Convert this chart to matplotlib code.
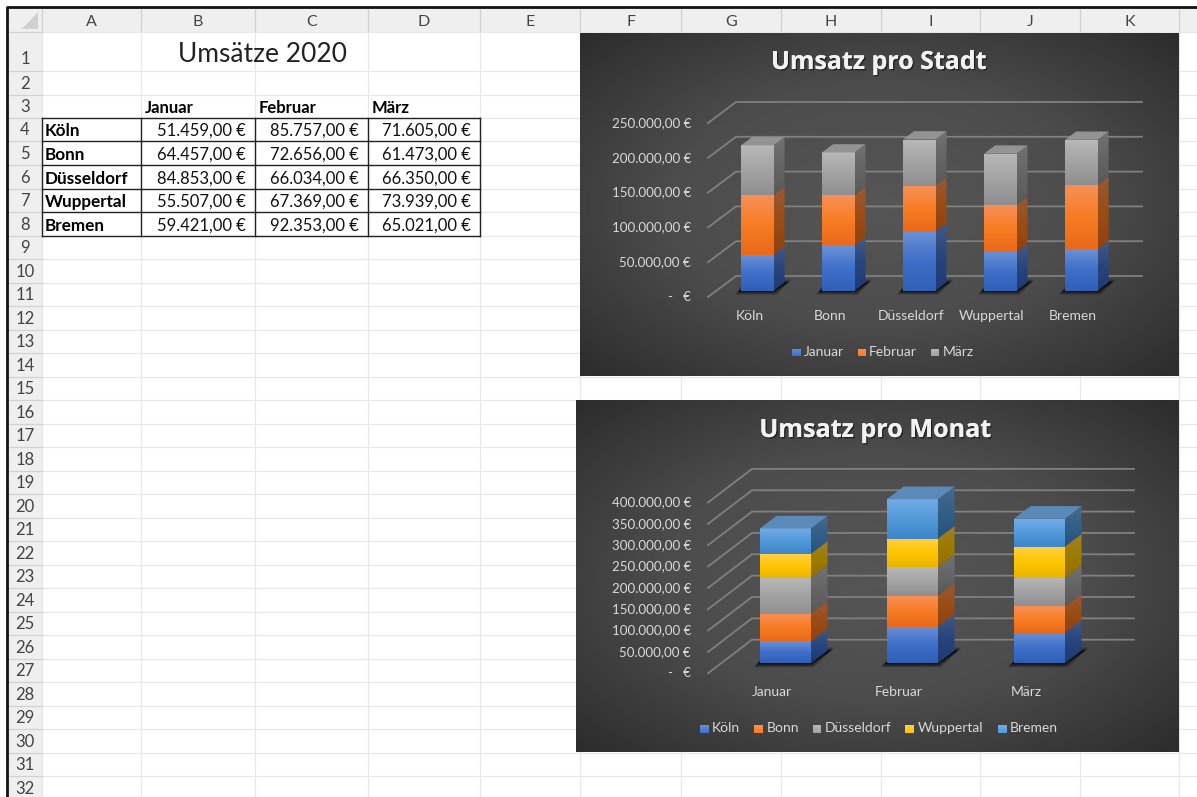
import numpy as np
import matplotlib
matplotlib.use("Agg")
import matplotlib.pyplot as plt
import matplotlib.patheffects as pe
from matplotlib.colors import LinearSegmentedColormap
from matplotlib.patches import Polygon, Rectangle

plt.rcParams["font.family"] = ["Lato", "DejaVu Sans"]

cities = ["Köln", "Bonn", "Düsseldorf", "Wuppertal", "Bremen"]
months = ["Januar", "Februar", "März"]
januar = [51459, 64457, 84853, 55507, 59421]
februar = [85757, 72656, 66034, 67369, 92353]
maerz = [71605, 61473, 66350, 73939, 65021]

col_labels = ["A", "B", "C", "D", "E", "F", "G", "H", "I", "J", "K"]
col_edges = [42, 141, 255, 368, 480, 580, 681, 781, 881, 980, 1080, 1179]
row_edges = [32, 71, 95, 118, 141, 165, 189, 212, 236, 259, 283, 306, 330, 353, 377, 400,
             424, 447, 471, 494, 518, 541, 565, 588, 612, 635, 659, 682, 706, 729, 753, 776, 800]

# (top, middle, bottom) front face
blue = ["#6a90d6", "#3f6fc8", "#2f60b8"]
orange = ["#f69058", "#f87c22", "#e8691a"]
gray = ["#b8b8b8", "#a3a3a3", "#8f8f8f"]
yellow = ["#ffcf45", "#ffc600", "#e8b400"]
light_blue = ["#72abe6", "#5299da", "#3f86c8"]

GRID = "#808080"
LABEL = "#d9d9d9"

fig = plt.figure(figsize=(11.97, 7.97), dpi=100)
sheet = fig.add_axes([0, 0, 1, 1])
sheet.set_xlim(0, 1197)
sheet.set_ylim(797, 0)
sheet.axis("off")


def euro(v):
    s = f"{v:,.2f}".replace(",", "#").replace(".", ",").replace("#", ".")
    return s + " €"


def draw_sheet():
    # headers
    sheet.add_patch(Rectangle((7, 7), 1190, 25, fc="#efefef", ec="none", zorder=0))
    sheet.add_patch(Rectangle((7, 7), 35, 790, fc="#efefef", ec="none", zorder=0))
    sheet.add_patch(Polygon([(38, 12), (38, 29), (22, 29)], fc="#d0d0d0", ec="none", zorder=1))
    sheet.plot([6.5, 6.5, 1197], [797, 7, 7], color="#111111", lw=2, zorder=5)

    # cell grid
    for x in col_edges:
        sheet.plot([x, x], [32, 797], color="#e8e8e8", lw=0.9, zorder=1)
        sheet.plot([x, x], [9, 32], color="#d2d2d2", lw=0.9, zorder=1)
    for y in row_edges:
        sheet.plot([42, 1197], [y, y], color="#e8e8e8", lw=0.9, zorder=1)
        sheet.plot([7, 42], [y, y], color="#d2d2d2", lw=0.9, zorder=1)

    for i, name in enumerate(col_labels):
        sheet.text((col_edges[i] + col_edges[i + 1]) / 2, 21.5, name, ha="center", va="center",
                   fontsize=11.5, color="#444444")
    for i in range(32):
        y = row_edges[i + 1] - 11 if i > 0 else 59
        sheet.text(25, y, str(i + 1), ha="center", va="center", fontsize=12, color="#444444")

    sheet.text(262, 54, "Umsätze 2020", ha="center", va="center", fontsize=19,
               fontweight="normal", color="#222222")

    # table
    for x, name in zip([145, 259, 372], months):
        sheet.text(x, 108, name, ha="left", va="center", fontsize=12, fontweight="bold", color="black")
    for y in row_edges[3:9]:
        sheet.plot([42, 480], [y, y], color="#222222", lw=1, zorder=3)
    for x in col_edges[:5]:
        sheet.plot([x, x], [118, 236], color="#222222", lw=1, zorder=3)
    columns = [januar, februar, maerz]
    for r, city in enumerate(cities):
        y = (row_edges[3 + r] + row_edges[4 + r]) / 2 + 1.5
        sheet.text(45, y, city, ha="left", va="center", fontsize=12.3, fontweight="bold", color="black")
        for c, values in enumerate(columns):
            sheet.text(col_edges[c + 2] - 9, y, euro(values[r]), ha="right", va="center",
                       fontsize=12, color="#111111")


def grad_fill(ax, verts, stops, zorder):
    """Polygon mit vertikalem Verlauf fuellen"""
    verts = np.array(verts)
    cm = LinearSegmentedColormap.from_list("g", stops)
    img = ax.imshow(np.linspace(0, 1, 64).reshape(-1, 1), cmap=cm, aspect="auto", origin="upper",
                    extent=[verts[:, 0].min(), verts[:, 0].max(), verts[:, 1].min(), verts[:, 1].max()],
                    zorder=zorder, interpolation="bilinear")
    img.set_clip_path(Polygon(verts, transform=ax.transData))


def shade(stops, f):
    rgb = np.array([matplotlib.colors.to_rgb(c) for c in stops]) * f
    return [tuple(c) for c in np.clip(rgb, 0, 1)]


def draw_chart(rect, title, title_xy, title_size, cats, names, series, colors, geo, legend, ymax):
    left, top, right, bottom = rect
    ax = fig.add_axes([left / 1197, 1 - bottom / 797, (right - left) / 1197, (bottom - top) / 797])
    sp = geo["spacing"]
    sc = geo["scale"]  # px per value
    xlim = ((left - geo["x0"]) / sp, (right - geo["x0"]) / sp)
    ylim = ((geo["base"] - bottom) / sc, (geo["base"] - top) / sc)
    px = lambda v: (v - geo["x0"]) / sp
    dy0 = lambda v: (geo["base"] - v) / sc

    # background
    yy, xx = np.mgrid[-1:1:200j, -1:1:300j]
    r = np.sqrt(xx ** 2 + yy ** 2) / np.sqrt(2)
    bg = LinearSegmentedColormap.from_list("bg", ["#565656", "#4c4c4c", "#2c2c2c"])
    ax.imshow(r, cmap=bg, extent=[*xlim, *ylim], aspect="auto", zorder=0, vmin=0, vmax=1)

    # gridlines
    for v in range(0, ymax + 1, 50000):
        xs = [px(geo["ax_front"]), px(geo["ax_back"]), px(geo["ax_right"])]
        ys = [v + dy0(geo["front0"]), v + dy0(geo["back0"]), v + dy0(geo["back0"])]
        ax.plot(xs, ys, color=GRID, lw=1.3, zorder=1, solid_joinstyle="miter")
        label = euro(v) if v else "-   €"
        ax.text(px(geo["label_x"]), v + dy0(geo["front0"]), label, ha="right", va="center",
                fontsize=geo["fs"], color=LABEL, zorder=6)

    w = geo["width"] / sp
    dx = geo["dx"] / sp
    dy = geo["dy"] / sc

    for i, cat in enumerate(cats):
        x0, x1 = i - w / 2, i + w / 2
        # shadow
        for grow, alpha in zip([3, 1.5, 0], [0.25, 0.35, 0.6]):
            g = grow / sp
            ax.add_patch(Polygon([(x0 - 3 / sp - g, -(1 + grow) / sc), (x1 + g, -(1 + grow) / sc),
                                  (x1 + dx + 4 / sp + g, dy + grow / sc), (x0 + dx - 3 / sp - g, dy + grow / sc)],
                                 fc="black", ec="none", alpha=alpha, zorder=2))
        bottom_v = 0
        for s, stops in zip(series, colors):
            top_v = bottom_v + s[i]
            grad_fill(ax, [(x0, bottom_v), (x1, bottom_v), (x1, top_v), (x0, top_v)], stops, 3)
            grad_fill(ax, [(x1, bottom_v), (x1 + dx, bottom_v + dy), (x1 + dx, top_v + dy), (x1, top_v)],
                      shade(stops, 0.62), 3)
            bottom_v = top_v
        last = shade(colors[-1], 0.8)
        ax.add_patch(Polygon([(x0, bottom_v), (x1, bottom_v), (x1 + dx, bottom_v + dy), (x0 + dx, bottom_v + dy)],
                             fc=last[0], ec="none", zorder=3))
        ax.text(px(geo["cat_x"][i]), dy0(geo["cat_y"]), cat, ha="center", va="center",
                fontsize=geo["fs2"], color=LABEL, zorder=6)

    # legend
    for name, stops, sx, tx in zip(names, colors, legend["swatch"], legend["text"]):
        yl = dy0(legend["y"])
        grad_fill(ax, [(px(sx), yl - 4 / sc), (px(sx + 8.5), yl - 4 / sc), (px(sx + 8.5), yl + 4 / sc), (px(sx), yl + 4 / sc)],
                  stops[:2], 6)
        ax.text(px(tx), yl, name, ha="left", va="center", fontsize=geo["fs2"], color=LABEL, zorder=6)

    t = ax.text(px(title_xy[0]), dy0(title_xy[1]), title, ha="center", va="center", fontsize=title_size,
                fontweight="bold", color="#f2f2f2", zorder=6, family=["Open Sans", "DejaVu Sans"])
    t.set_path_effects([pe.withSimplePatchShadow(offset=(1, -1), shadow_rgbFace="black", alpha=0.5), pe.Normal()])

    ax.set_xlim(*xlim)
    ax.set_ylim(*ylim)
    ax.axis("off")


draw_sheet()

draw_chart(
    (580, 33, 1179, 376), "Umsatz pro Stadt", (879, 62.5), 18, cities, months,
    [januar, februar, maerz], [blue, orange, gray],
    dict(spacing=81, scale=34.8 / 50000, x0=757.3, base=290.7, width=32.5, dx=11, dy=8.3,
         front0=297, back0=276, ax_front=708, ax_back=736, ax_right=1142, label_x=691,
         cat_x=[749.5, 830, 911, 992, 1072.5], cat_y=316.5, fs=9.6, fs2=10),
    dict(y=352.5, swatch=[792.4, 857.5, 930.5], text=[804, 869, 942.4]),
    250000,
)

by_month = [[januar[i], februar[i], maerz[i]] for i in range(5)]
draw_chart(
    (576, 400, 1179, 752), "Umsatz pro Monat", (875.4, 430.5), 18.1, months, cities,
    by_month, [blue, orange, gray, yellow, light_blue],
    dict(spacing=127, scale=21.35 / 50000, x0=785.3, base=663.3, width=51, dx=16.7, dy=12.7,
         front0=673.3, back0=639.7, ax_front=708, ax_back=752, ax_right=1134, label_x=691,
         cat_x=[772, 899, 1026], cat_y=692.5, fs=9.6, fs2=10),
    dict(y=728.5, swatch=[700, 754.4, 812.7, 905.4, 998], text=[712, 766.4, 825.2, 917.8, 1009.6]),
    400000,
)

fig.savefig("out.png", dpi=100, facecolor="white")
